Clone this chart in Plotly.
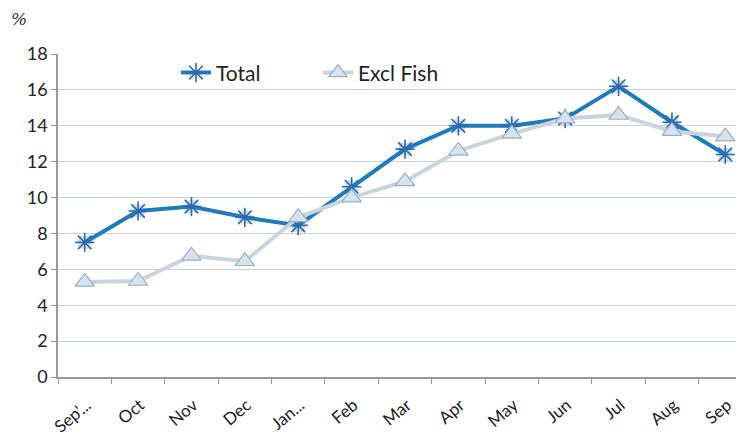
import plotly.graph_objects as go

months = ["Sep'...", "Oct", "Nov", "Dec", "Jan...", "Feb", "Mar", "Apr", "May", "Jun", "Jul", "Aug", "Sep"]
total = [7.5, 9.25, 9.5, 8.9, 8.45, 10.6, 12.7, 14.0, 14.0, 14.4, 16.2, 14.2, 12.4]
excl_fish = [5.3, 5.35, 6.75, 6.45, 8.9, 10.0, 10.9, 12.6, 13.55, 14.4, 14.6, 13.7, 13.4]

FONT = "Lato"
fig = go.Figure()

fig.add_trace(go.Scatter(
    x=months, y=total, mode="markers", showlegend=False, hoverinfo="skip",
    marker=dict(symbol="square", size=13, color="#cfe0f0", line=dict(width=0)),
))
fig.add_trace(go.Scatter(
    x=months, y=total, name="Total", mode="lines+markers",
    line=dict(color="#1f7bbf", width=4),
    marker=dict(symbol="asterisk-open", size=16, color="#2f6aa8",
                line=dict(color="#2f6aa8", width=1.6)),
))
fig.add_trace(go.Scatter(
    x=months, y=excl_fish, name="Excl Fish", mode="lines+markers",
    line=dict(color="#c9d4dd", width=4),
    marker=dict(symbol="triangle-up", size=17, color="#d5e3f1",
                line=dict(color="#9fb0c2", width=1.2)),
))

fig.add_annotation(text="%", xref="paper", yref="paper", x=-0.07, y=1.07,
                   xanchor="left", yanchor="bottom", showarrow=False,
                   font=dict(family="DejaVu Serif", size=17, color="#333", style="italic"))

fig.update_layout(
    width=744, height=439,
    margin=dict(l=50, r=0, t=46, b=70),
    plot_bgcolor="white", paper_bgcolor="white",
    font=dict(family=FONT, size=16, color="#222"),
    showlegend=True,
    legend=dict(orientation="h", x=0.17, y=1.005, xanchor="left", yanchor="top",
                font=dict(family=FONT, size=21, color="#222"), entrywidth=97,
                bgcolor="rgba(0,0,0,0)", traceorder="normal"),
    xaxis=dict(type="category", range=[-0.5, 12.5], tickangle=-40, automargin=False,
               showline=True, linecolor="#9a9a9a", linewidth=1.5,
               ticks="outside", tickson="boundaries", ticklen=5, tickcolor="#9a9a9a",
               ticklabelstandoff=10, ticklabelshift=2,
               showgrid=False, tickfont=dict(size=17, color="#222")),
    yaxis=dict(range=[0, 18], dtick=2, showline=True, linecolor="#9a9a9a", linewidth=1.5,
               ticks="outside", ticklen=5, tickcolor="#9a9a9a", automargin=False,
               gridcolor="#c5d3e2", gridwidth=1.2, zeroline=False,
               tickfont=dict(size=18, color="#222")),
)

fig.write_html("out.html")
